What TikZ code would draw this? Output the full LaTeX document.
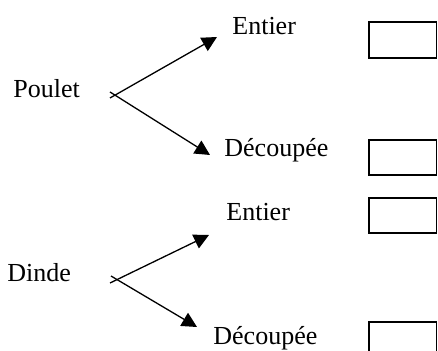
\documentclass[tikz,border=0pt]{standalone}
\usepackage{fontspec}
\setmainfont{Liberation Serif}
\usetikzlibrary{arrows.meta}
\tikzset{
  etiq/.style={anchor=base west, inner sep=0pt, font=\fontsize{13}{15}\selectfont},
  casilla/.style={draw, line width=0.65pt},
  flecha/.style={line width=0.65pt, -{Triangle[length=7.5pt,width=7.5pt]}}
}
\begin{document}
\begin{tikzpicture}[x=0.5pt,y=-0.5pt]
            \clip (0,0) rectangle (438,351); % marco
            % primer grupo
            \node[etiq] (poulet) at (13,98) {Poulet};
            \node[etiq] (ent1) at (232,35) {Entier};
            \node[etiq] (dec1) at (224,157) {Découpée};
            \coordinate (p1a) at (110,98);
            \coordinate (p1b) at (110,92);
            \coordinate (t1a) at (217,37);
            \coordinate (t1b) at (210,155);
            \draw[flecha] (p1a) -- (t1a);
            \draw[flecha] (p1b) -- (t1b);
            % segundo grupo
            \node[etiq] (dinde) at (7,282) {Dinde};
            \node[etiq] (ent2) at (226,221) {Entier};
            \node[etiq] (dec2) at (213,344) {Découpée};
            \coordinate (p2a) at (110,283);
            \coordinate (p2b) at (111,276);
            \coordinate (t2a) at (209,235);
            \coordinate (t2b) at (197,327);
            \draw[flecha] (p2a) -- (t2a);
            \draw[flecha] (p2b) -- (t2b);
            % casillas
            \foreach \ya/\yb in {22/58,140/175,198/233,322/362}
              \draw[casilla] (369,\ya) rectangle (436.8,\yb);
\end{tikzpicture}
\end{document}
